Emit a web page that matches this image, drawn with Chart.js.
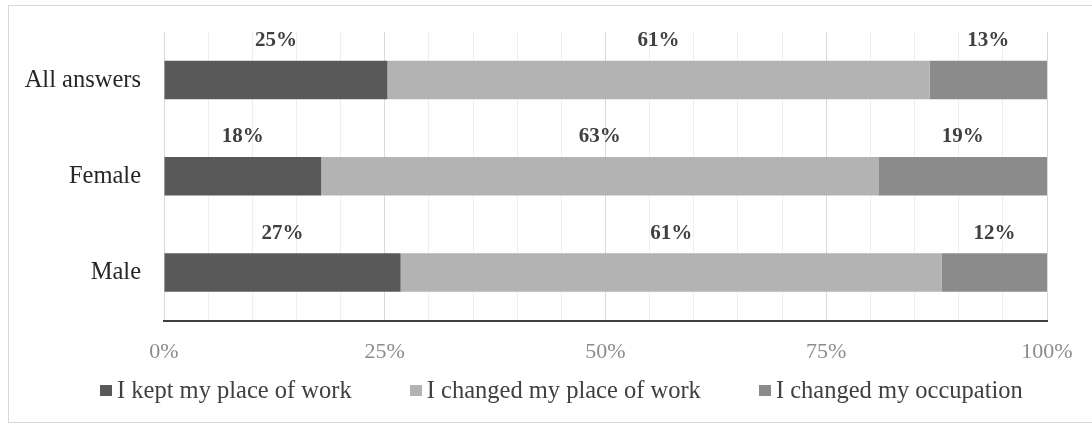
<!DOCTYPE html>
<html lang="en">
<head>
  <meta charset="UTF-8" />
  <title>Changes in work by gender</title>
  <script src="https://cdn.jsdelivr.net/npm/chart.js"></script>
  <style>
    body {
      margin: 0;
      background: white;
      overflow: hidden;
    }

    .frame {
      position: absolute;
      left: 8px;
      top: 5px;
      width: 1100px;
      height: 416px;
      border: 1px solid #d9d9d9;
    }

    .wrap {
      position: absolute;
      left: 0;
      top: 0;
      width: 1092px;
      height: 425px;
    }

    #legend {
      position: absolute;
      left: 100px;
      top: 376px;
      display: flex;
      gap: 58px;
      font-family: "Liberation Serif", "Times New Roman", serif;
      font-size: 24.5px;
      color: #404040;
      white-space: nowrap;
    }

    #legend span.item {
      display: flex;
      align-items: center;
    }

    #legend span.box {
      display: inline-block;
      width: 12px;
      height: 11px;
      margin-right: 5px;
    }
  </style>
</head>
<body>

  <div class="frame"></div>
  <div class="wrap">
    <canvas id="workChart"></canvas>
  </div>
  <div id="legend"></div>

  <script>
    const groups = ['All answers', 'Female', 'Male'];
    const keptPlace = [25.3, 17.8, 26.8];
    const changedPlace = [61.4, 63.1, 61.3];
    const changedOccupation = [13.3, 19.1, 11.9];
    const axisTicks = [0, 25, 50, 75, 100];

    // bold value labels above each segment
    const segmentLabels = {
      id: 'segmentLabels',
      afterDatasetsDraw(chart) {
        const ctx = chart.ctx;
        ctx.save();
        ctx.font = 'bold 21px "Liberation Serif", serif';
        ctx.fillStyle = '#404040';
        ctx.textAlign = 'center';
        ctx.textBaseline = 'middle';
        chart.data.datasets.forEach((ds, i) => {
          chart.getDatasetMeta(i).data.forEach((bar, j) => {
            const p = bar.getProps(['x', 'base', 'y', 'height'], true);
            const cx = (p.x + p.base) / 2;
            ctx.fillText(Math.round(ds.data[j]) + '%', cx, p.y - p.height / 2 - 20);
          });
        });
        ctx.restore();
      }
    };

    const ctx = document.getElementById('workChart').getContext('2d');
    const chart = new Chart(ctx, {
      type: 'bar',
      data: {
        labels: groups,
        datasets: [
          { label: 'I kept my place of work', data: keptPlace, backgroundColor: '#595959' },
          { label: 'I changed my place of work', data: changedPlace, backgroundColor: '#b3b3b3' },
          { label: 'I changed my occupation', data: changedOccupation, backgroundColor: '#8b8b8b' }
        ]
      },
      options: {
        indexAxis: 'y',
        responsive: true,
        maintainAspectRatio: false,
        animation: false,
        categoryPercentage: 0.8,
        barPercentage: 0.5,
        layout: {
          padding: { left: 10, right: 45, top: 32, bottom: 42 }
        },
        plugins: {
          tooltip: { enabled: false },
          legend: { display: false }
        },
        scales: {
          x: {
            stacked: true,
            min: 0,
            max: 100,
            afterBuildTicks(scale) {
              const t = [];
              for (let v = 0; v <= 100; v += 5) t.push({ value: v });
              scale.ticks = t;
            },
            ticks: {
              autoSkip: false,
              maxRotation: 0,
              padding: 18,
              color: '#8c8c8c',
              font: { family: '"Liberation Serif", serif', size: 22 },
              callback: v => axisTicks.includes(v) ? v + '%' : ''
            },
            grid: {
              drawTicks: false,
              color: c => axisTicks.includes(c.tick && c.tick.value) ? '#d9d9d9' : '#efefef'
            },
            border: { display: true, color: '#404040', width: 2 }
          },
          y: {
            stacked: true,
            afterFit(scale) {
              scale.width = 154;
              scale.paddingTop = 0;
              scale.paddingBottom = 0;
            },
            ticks: {
              padding: 23,
              color: '#262626',
              font: { family: '"Liberation Serif", serif', size: 24.5 }
            },
            grid: { display: false, drawTicks: false },
            border: { display: false }
          }
        }
      },
      plugins: [segmentLabels]
    });

    // legend built from the datasets
    const legendEl = document.getElementById('legend');
    chart.data.datasets.forEach(ds => {
      const item = document.createElement('span');
      item.className = 'item';
      item.innerHTML = `<span class="box" style="background:${ds.backgroundColor}"></span>${ds.label}`;
      legendEl.appendChild(item);
    });
  </script>

</body>
</html>
